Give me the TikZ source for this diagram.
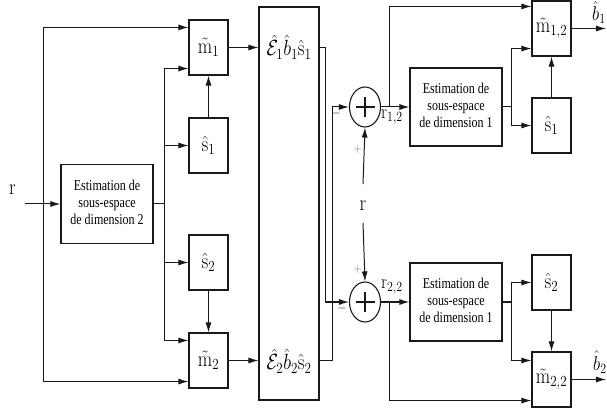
\RequirePackage{fix-cm}
\documentclass[tikz,border=0pt]{standalone}
\usepackage{fontspec}
\usepackage{graphicx}
\usetikzlibrary{arrows.meta,shapes.geometric,calc}
\newfontfamily\tms{Liberation Serif}
\newcommand{\lab}[1]{\scalebox{0.85}[1]{$#1$}}
\newcommand{\estxt}[1]{\scalebox{0.8}[1]{\tms\fontsize{15}{17}\selectfont\begin{tabular}{@{}c@{}}#1\end{tabular}}}
\begin{document}
\begin{tikzpicture}[x=1pt,y=-1pt,
  box/.style={draw=black!90, line width=1.1pt, inner sep=0pt, minimum width=39pt, minimum height=55pt, font=\fontsize{22}{26}\selectfont},
  estbox/.style={draw=black!90, line width=1.1pt, inner sep=0pt, minimum width=92pt, minimum height=78pt},
  sumnode/.style={draw=black!90, ellipse, line width=1.1pt, minimum width=31pt, minimum height=40pt, inner sep=0pt,
    path picture={\draw[line width=1.1pt] ([xshift=-9.5pt]path picture bounding box.center) -- ([xshift=9.5pt]path picture bounding box.center);
                  \draw[line width=1.1pt] ([yshift=-10pt]path picture bounding box.center) -- ([yshift=10pt]path picture bounding box.center);}},
  arr/.style={draw=black!90, -{Latex[length=10pt,width=6pt]}, line width=1pt},
  ln/.style={draw=black!90, line width=1pt},
  lbl/.style={inner sep=0pt, font=\fontsize{22}{26}\selectfont},
  slbl/.style={inner sep=0pt, font=\fontsize{20}{24}\selectfont},
  sgn/.style={inner sep=0pt, font=\fontsize{12}{14}\selectfont}
]
\useasboundingbox (0,0) rectangle (607,411);

% left column
\node[box] (m1) at (208.5,47.5) {\lab{\tilde{\mathrm m}_1}};
\node[box] (s1) at (208.5,145.5) {\lab{\hat{\mathrm s}_1}};
\node[box] (s2) at (208.5,262.5) {\lab{\hat{\mathrm s}_2}};
\node[box] (m2) at (208.5,360.5) {\lab{\tilde{\mathrm m}_2}};
\node[estbox, minimum height=79pt] (est2) at (107,204) {\estxt{Estimation de\\sous-espace\\de dimension 2}};
\node[draw=black!90, line width=1.1pt, minimum width=60pt, minimum height=393pt, inner sep=0pt] (big) at (289,203.5) {};
\node[lbl] (e1) at (289,47) {\lab{\hat{\mathcal E}_1\hat b_1\hat{\mathrm s}_1}};
\node[lbl] (e2) at (289,361) {\lab{\hat{\mathcal E}_2\hat b_2\hat{\mathrm s}_2}};
\node[lbl] (rL) at (12.5,190) {\lab{\mathrm r}};

% right part
\node[sumnode] (sum1) at (365,107) {};
\node[sumnode] (sum2) at (365,302) {};
\node[estbox] (est1a) at (456,107) {\estxt{Estimation de\\sous-espace\\de dimension 1}};
\node[estbox] (est1b) at (456,302) {\estxt{Estimation de\\sous-espace\\de dimension 1}};
\node[box] (m12) at (551.5,28.5) {\lab{\tilde{\mathrm m}_{1,2}}};
\node[box] (s1r) at (551.5,125.5) {\lab{\hat{\mathrm s}_1}};
\node[box] (s2r) at (551.5,282.5) {\lab{\hat{\mathrm s}_2}};
\node[box] (m22) at (551.5,379.5) {\lab{\tilde{\mathrm m}_{2,2}}};
\node[lbl] (rM) at (363,206) {\lab{\mathrm r}};
\node[slbl, anchor=base west] (r12) at (381,119) {\lab{\mathrm r_{1,2}}};
\node[slbl, anchor=base west] (r22) at (381,288.5) {\lab{\mathrm r_{2,2}}};
\node[slbl, anchor=base west] (bb1) at (592,21) {\lab{\hat b_1}};
\node[slbl, anchor=base west] (bb2) at (593,370) {\lab{\hat b_2}};
\node[sgn] (mn1) at (336,114) {$-$};
\node[sgn] (mn2) at (342,309) {$-$};
\node[sgn, text=black!55] (pl1) at (358,150) {$+$};
\node[sgn, text=black!55] (pl2) at (358,270) {$+$};

% left connectors
\coordinate (rin) at (25,204);
\coordinate (jr) at (43,204);
\coordinate (jl) at (164,204);
\draw[arr] (rin) -- (est2.west);
\draw[arr] (jr) |- ([yshift=-8pt]m1.north west);
\draw[arr] (jr) |- ([yshift=7pt]m2.south west);
\draw[ln] (est2.east) -- (jl);
\draw[arr] (jl) |- ([yshift=7pt]m1.south west);
\draw[arr] (jl) |- (s1.west);
\draw[arr] (jl) |- (s2.west);
\draw[arr] (jl) |- ([yshift=-8pt]m2.north west);
\draw[arr] (s1.north) -- (m1.south);
\draw[arr] (s2.south) -- (m2.north);
\draw[arr] (m1.east) -- (big.west |- m1.east);
\draw[arr] (m2.east) -- (big.west |- m2.east);

% right connectors
\coordinate (t1) at (325,47.5);
\coordinate (t2) at (332,360.5);
\draw[arr] (big.east |- m1.east) -- (t1) |- (sum2.west);
\draw[arr] (big.east |- m2.east) -- (t2) |- (sum1.west);
\draw[arr] ([yshift=22pt]rM.center) -- (sum1.south);
\draw[arr] ([yshift=-17pt]rM.center) -- (sum2.north);
\draw[arr] (sum1.east) -- (est1a.west);
\draw[arr] (sum2.east) -- (est1b.west);
\coordinate (b1) at (389,107);
\coordinate (b2) at (389,302);
\draw[arr] (b1) |- ([yshift=-6pt]m12.north west);
\draw[arr] (b2) |- ([yshift=7pt]m22.south west);
\coordinate (c1) at (511,107);
\coordinate (c2) at (511,302);
\draw[ln] (est1a.east) -- (c1);
\draw[arr] (c1) |- ([yshift=8pt]m12.south west);
\draw[arr] (c1) |- (s1r.west);
\draw[ln] (est1b.east) -- (c2);
\draw[arr] (c2) |- (s2r.west);
\draw[arr] (c2) |- ([yshift=-9pt]m22.north west);
\draw[arr] (s1r.north) -- (m12.south);
\draw[arr] (s2r.south) -- (m22.north);
\coordinate (o1) at (606,28.5);
\coordinate (o2) at (606,379.5);
\draw[arr] (m12.east) -- (o1);
\draw[arr] (m22.east) -- (o2);
\end{tikzpicture}
\end{document}
